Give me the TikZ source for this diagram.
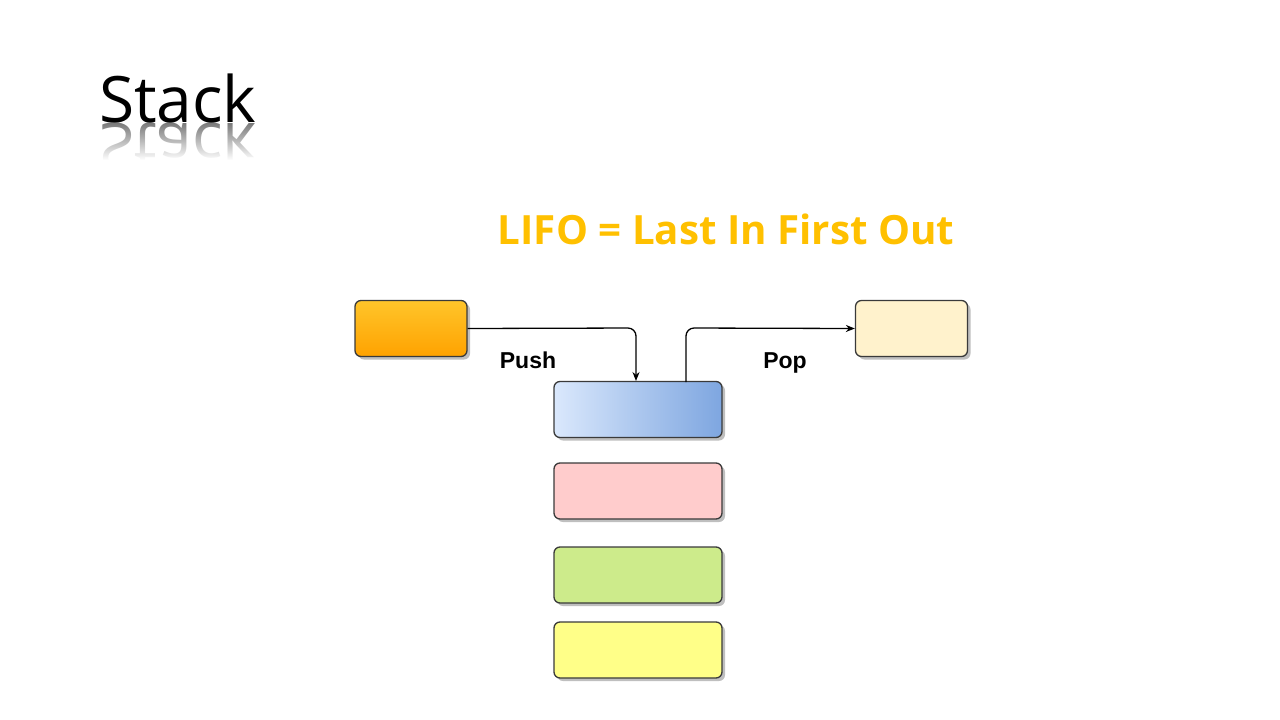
\documentclass[tikz,border=0pt]{standalone}
\usepackage{fontspec}
\setmainfont{Open Sans}
\newfontfamily\arialfont{Liberation Sans}
\usetikzlibrary{arrows.meta,shadows,fadings}
\definecolor{lifo}{HTML}{FFC000}
\definecolor{orgtop}{HTML}{FFC52A}
\definecolor{orgbot}{HTML}{FFA200}
\definecolor{cream}{HTML}{FFF2CC}
\definecolor{blueL}{HTML}{DAE8FC}
\definecolor{blueR}{HTML}{7EA6E0}
\definecolor{pinkc}{HTML}{FFCCCC}
\definecolor{greenc}{HTML}{CDEB8B}
\definecolor{yellowc}{HTML}{FFFF88}
\definecolor{edgec}{HTML}{3A3A3A}
\tikzset{
  box/.style={draw=edgec, line width=1.3pt, rounded corners=6pt,
    minimum width=168pt, minimum height=56pt, inner sep=0pt,
    drop shadow={shadow xshift=3pt, shadow yshift=-3pt, fill=black, opacity=0.25}},
  sbox/.style={box, minimum width=112pt, minimum height=56pt},
  conn/.style={draw=black, line width=1.3pt, rounded corners=8pt, -{Stealth[length=9pt,width=7pt]}},
  lbl/.style={font=\arialfont\bfseries\fontsize{23}{26}\selectfont, inner sep=0pt, anchor=base},
  titlefont/.style={font=\fontsize{64}{70}\selectfont, inner sep=0pt, anchor=base west}
}
\begin{document}
\begin{tikzpicture}[x=1pt,y=-1pt]
\useasboundingbox (0,0) rectangle (1280,720);
% title and its reflection
\node[titlefont, text=black!55, yscale=-1, transform shape] (refl) at (99,123) {Stack};
\fill[white, path fading=north] (95,121) rectangle (265,160);
\fill[white] (95,160) rectangle (265,180);
\node[titlefont] (title) at (99,122) {Stack};
\node[anchor=base, inner sep=0pt, font=\bfseries\fontsize{40.3}{44}\selectfont, text=lifo] (lifo) at (726,244) {LIFO = Last In First Out};
% boxes
\node[sbox, top color=orgtop, bottom color=orgbot] (src) at (411,328.5) {};
\node[sbox, fill=cream] (dst) at (911.5,328.5) {};
\node[box, left color=blueL, right color=blueR] (b1) at (638,409.5) {};
\node[box, fill=pinkc] (b2) at (638,491) {};
\node[box, fill=greenc] (b3) at (638,575) {};
\node[box, fill=yellowc] (b4) at (638,650) {};
% connectors
\coordinate (pushin) at (636,381);
\coordinate (popout) at (686,382);
\draw[conn] (src.east) -- (636,328) -- (pushin);
\draw[conn] (popout) -- (686,328) -- (dst.west);
\node[lbl] (push) at (528,368) {Push};
\node[lbl] (pop) at (785,368) {Pop};
\end{tikzpicture}
\end{document}
